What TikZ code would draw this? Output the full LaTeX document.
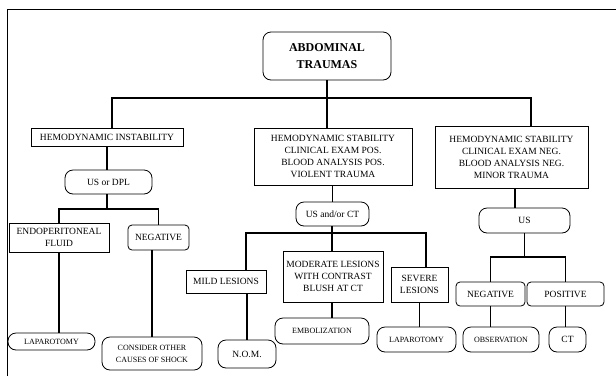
\documentclass[tikz,border=0pt]{standalone}
\usepackage{fontspec}
\setmainfont{Liberation Serif}
\begin{document}
\begin{tikzpicture}[x=1pt, y=-1pt,
    every node/.style={inner sep=0pt, align=center, font=\fontsize{9.5}{12}\selectfont},
    box/.style={draw, line width=0.8pt},
    rbox/.style={draw, line width=0.8pt, rounded corners=4pt},
    pill/.style={draw, line width=0.8pt, rounded corners=8pt},
    tree/.style={line width=1.6pt}]
      \useasboundingbox (0,0) rectangle (616,376);
      % Frame
      \draw[line width=0.8pt] (7,376) -- (7,9) -- (616,9);

      % Nodes
      \node[rbox, rounded corners=8pt, minimum width=128pt, minimum height=48pt, font=\fontsize{12}{17}\selectfont\bfseries] at (327,56) (root) {ABDOMINAL\\TRAUMAS};

      \node[box, minimum width=152pt, minimum height=18pt] at (107,137) (hi) {HEMODYNAMIC INSTABILITY};
      \node[box, minimum width=158pt, minimum height=57pt] at (333,156.5) (hs) {HEMODYNAMIC STABILITY\\CLINICAL EXAM POS.\\BLOOD ANALYSIS POS.\\VIOLENT TRAUMA};
      \node[box, minimum width=153pt, minimum height=62pt] at (511.5,157) (hn) {HEMODYNAMIC STABILITY\\CLINICAL EXAM NEG.\\BLOOD ANALYSIS NEG.\\MINOR TRAUMA};

      \node[pill, minimum width=87pt, minimum height=24pt] at (108.5,182) (usdpl) {US or DPL};
      \node[box, minimum width=100pt, minimum height=29pt] at (59,237.5) (fluid) {ENDOPERITONEAL\\FLUID};
      \node[rbox, minimum width=61pt, minimum height=25pt] at (158.5,237.5) (neg1) {NEGATIVE};
      \node[pill, minimum width=87pt, minimum height=17pt, font=\fontsize{8}{10}\selectfont] at (51.5,341.5) (lap1) {LAPAROTOMY};
      \node[pill, minimum width=100pt, minimum height=33pt, font=\fontsize{8}{12}\selectfont] at (152,353.5) (shock) {CONSIDER OTHER\\CAUSES OF SHOCK};

      \node[pill, minimum width=73pt, minimum height=24pt] at (332.5,214) (usct) {US and/or CT};
      \node[box, minimum width=80pt, minimum height=23pt] at (226,281.5) (mild) {MILD LESIONS};
      \node[box, minimum width=100pt, minimum height=51pt] at (333,276.5) (mod) {MODERATE LESIONS\\WITH CONTRAST\\BLUSH AT CT};
      \node[box, minimum width=57pt, minimum height=35pt] at (419.5,284.5) (sev) {SEVERE\\LESIONS};
      \node[pill, minimum width=58pt, minimum height=28pt] at (247,354) (nom) {N.O.M.};
      \node[pill, minimum width=94pt, minimum height=26pt, font=\fontsize{8}{10}\selectfont] at (322,331) (embo) {EMBOLIZATION};
      \node[pill, minimum width=79pt, minimum height=25pt, font=\fontsize{8}{10}\selectfont] at (416.5,339.5) (lap2) {LAPAROTOMY};

      \node[pill, minimum width=91pt, minimum height=25pt] at (524.5,220.5) (us) {US};
      \node[rbox, minimum width=69pt, minimum height=24pt] at (490.5,294) (neg2) {NEGATIVE};
      \node[rbox, minimum width=77pt, minimum height=24pt] at (565.5,294) (pos) {POSITIVE};
      \node[pill, minimum width=76pt, minimum height=25pt, font=\fontsize{8}{10}\selectfont] at (501,339.5) (obs) {OBSERVATION};
      \node[pill, minimum width=37pt, minimum height=25pt] at (567.5,339.5) (ct) {CT};

      % Junctions
      \coordinate (j0) at (327,98);
      \coordinate (j1) at (107,209);
      \coordinate (j2) at (332,233);
      \coordinate (j3) at (524.5,257);

      % Connectors
      \draw[tree] (root.south) -- (root.south |- hs.north);
      \draw[tree] ([xshift=5pt]hi.north) |- (j0) -| ([xshift=19.5pt]hn.north);

      \draw[tree] (hi.south) -- (hi.south |- usdpl.north);
      \draw[tree] (usdpl.south -| j1) -- (j1);
      \draw[tree] (fluid.north) |- (j1) -| (neg1.north);
      \draw[tree] (fluid.south) -- (fluid.south |- lap1.north);
      \draw[tree] (shock.north) -- (shock.north |- neg1.south);

      \draw[tree] (usct.north) -- (usct.north |- hs.south);
      \draw[tree] (usct.south -| j2) -- (j2);
      \draw[tree] ([xshift=20pt]mild.north) |- (j2) -| ([xshift=6.5pt]sev.north);
      \draw[tree] (j2) -- (j2 |- mod.north);
      \draw[tree] (nom.north) -- (nom.north |- mild.south);
      \draw[tree] ([xshift=10pt]embo.north) -- ([xshift=10pt]embo.north |- mod.south);
      \draw[tree] (sev.south) -- (sev.south |- lap2.north);

      \draw[tree] ([xshift=3.5pt]hn.south) -- ([xshift=3.5pt]hn.south |- us.north);
      \draw[tree] (us.south) -- (j3);
      \draw[tree] (neg2.north) |- (j3) -| (pos.north);
      \draw[tree] (neg2.south) -- (neg2.south |- obs.north);
      \draw[tree] (pos.south) -- (pos.south |- ct.north);
\end{tikzpicture}
\end{document}
